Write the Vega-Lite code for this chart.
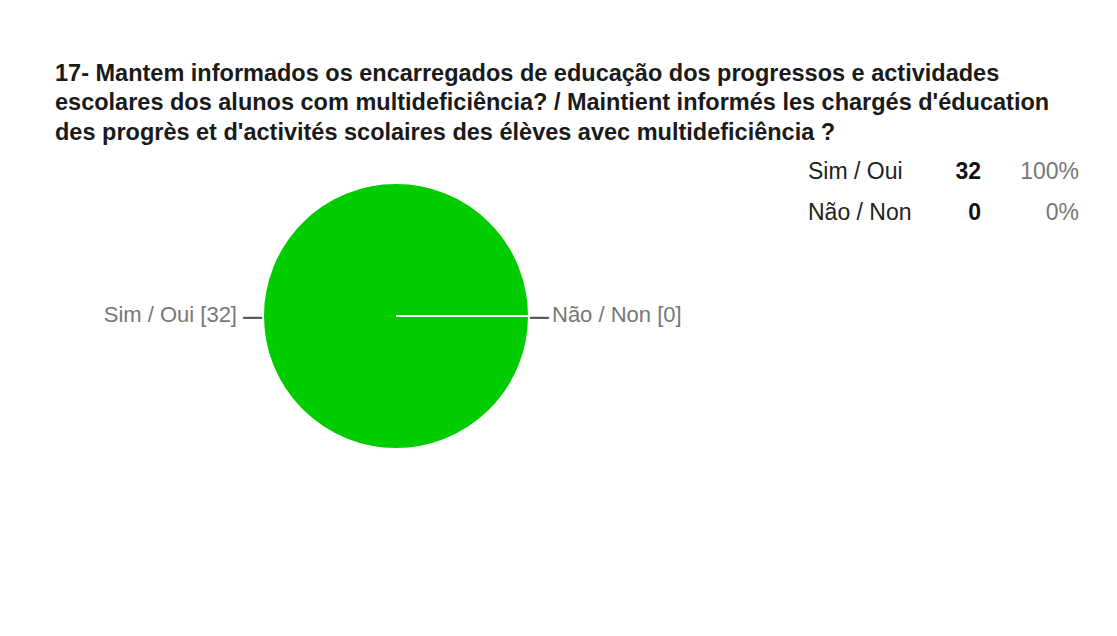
{
  "$schema": "https://vega.github.io/schema/vega-lite/v6.json",
  "background": "white",
  "padding": {"left": 8, "top": 10, "right": 0, "bottom": 0},
  "autosize": {"type": "pad"},
  "spacing": 0,
  "title": {
    "text": [
      "17- Mantem informados os encarregados de educação dos progressos e actividades",
      "escolares dos alunos com multideficiência? / Maintient informés les chargés d'éducation",
      "des progrès et d'activités scolaires des élèves avec multideficiência ?"
    ],
    "anchor": "start",
    "orient": "top",
    "offset": -134,
    "dx": 47,
    "font": "Liberation Sans",
    "fontSize": 23.5,
    "fontWeight": "bold",
    "color": "#1a1a1a",
    "lineHeight": 29.5
  },
  "datasets": {
    "answers": [
      {"answer": "Sim / Oui", "count": 32, "share": 1.0, "label": "Sim / Oui [32]"},
      {"answer": "Não / Non", "count": 0, "share": 0.0, "label": "Não / Non [0]"}
    ]
  },
  "hconcat": [
    {
      "width": 776,
      "height": 612,
      "data": {"name": "answers"},
      "layer": [
        {
          "mark": {"type": "text", "fontSize": 34, "color": "#5a5a5a", "font": "Liberation Sans"},
          "encoding": {
            "theta": {"field": "count", "type": "quantitative", "stack": true},
            "radius": {"value": 136},
            "text": {"value": "—"}
          }
        },
        {
          "mark": {"type": "arc", "radius": 133, "stroke": "white", "strokeWidth": 2},
          "encoding": {
            "theta": {"field": "count", "type": "quantitative", "stack": true, "scale": {"range": [1.5708, 7.854]}},
            "color": {"field": "answer", "type": "nominal", "scale": {"domain": ["Sim / Oui", "Não / Non"], "range": ["#00cc00", "#dc3912"]}, "legend": null}
          }
        },
        {
          "transform": [{"filter": "datum.answer === 'Sim / Oui'"}],
          "mark": {"type": "text", "align": "right", "baseline": "middle", "fontSize": 22, "color": "#777777", "font": "Liberation Sans", "dy": -1},
          "encoding": {
            "theta": {"field": "count", "type": "quantitative", "stack": true},
            "radius": {"value": 159},
            "text": {"field": "label"}
          }
        },
        {
          "transform": [{"filter": "datum.answer === 'Não / Non'"}],
          "mark": {"type": "text", "align": "left", "baseline": "middle", "fontSize": 22, "color": "#777777", "font": "Liberation Sans", "dy": -1},
          "encoding": {
            "theta": {"field": "count", "type": "quantitative", "stack": true},
            "radius": {"value": 156},
            "text": {"field": "label"}
          }
        }
      ]
    },
    {
      "width": 333,
      "height": 612,
      "data": {"name": "answers"},
      "encoding": {
        "y": {"field": "answer", "type": "nominal", "scale": {"type": "point", "padding": 0, "domain": ["Sim / Oui", "Não / Non"], "range": [169, 209.5]}, "axis": null}
      },
      "layer": [
        {
          "mark": {"type": "text", "align": "left", "baseline": "alphabetic", "fontSize": 23, "color": "#222222", "font": "Liberation Sans", "dx": -142.5},
          "encoding": {
            "text": {"field": "answer"}
          }
        },
        {
          "mark": {"type": "text", "align": "right", "baseline": "alphabetic", "fontSize": 23, "fontWeight": "bold", "color": "#111111", "font": "Liberation Sans", "dx": 30.5},
          "encoding": {
            "text": {"field": "count", "type": "quantitative"}
          }
        },
        {
          "mark": {"type": "text", "align": "right", "baseline": "alphabetic", "fontSize": 23, "color": "#777777", "font": "Liberation Sans", "dx": 128.5},
          "encoding": {
            "text": {"field": "share", "type": "quantitative", "format": ".0%"}
          }
        }
      ]
    }
  ],
  "config": {
    "view": {"fill": "white", "stroke": null},
    "font": "Liberation Sans"
  }
}
